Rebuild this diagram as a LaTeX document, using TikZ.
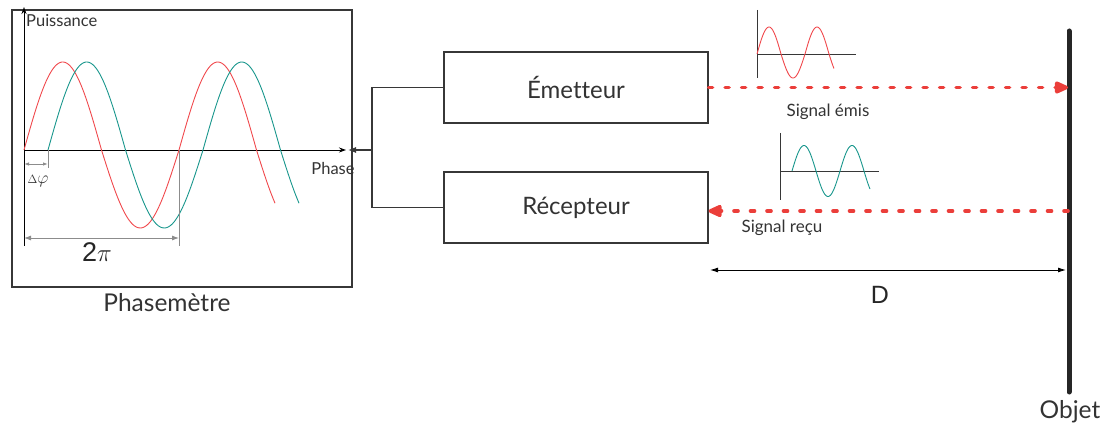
\documentclass[tikz,border=0pt]{standalone}
\usepackage{fontspec}
\setmainfont{Lato}[Ligatures=NoCommon]
\newfontfamily\dimfont{Liberation Sans}
\usetikzlibrary{arrows.meta, positioning, calc}
\definecolor{sigred}{RGB}{235, 62, 58}
\definecolor{wavered}{RGB}{240, 72, 76}
\definecolor{waveteal}{RGB}{24, 150, 140}
\definecolor{framegray}{RGB}{55, 55, 55}
\definecolor{dimgray}{RGB}{140, 140, 140}

\begin{document}
\begin{tikzpicture}[x=1pt, y=-1pt,
  blockbox/.style={draw=framegray, line width=1.1pt, minimum width=264pt, minimum height=71pt, inner sep=0pt, font=\fontsize{24}{28}\selectfont, text=black!80},
  smalltxt/.style={font=\fontsize{16.5}{19}\selectfont, text=black!80, inner sep=0pt},
  bigtxt/.style={font=\fontsize{24.5}{28}\selectfont, text=black!80, inner sep=0pt},
  signal/.style={sigred, line width=3.6pt, line cap=round, dash pattern=on 4pt off 12.5pt, -{Triangle[length=16pt, width=13pt, round=false]}},
  dimline/.style={dimgray, line width=0.9pt},
  wave/.style={line width=0.9pt}
]
  \useasboundingbox (0,0) rectangle (1108,427);

  % Phasemetre frame and axes
  \node[draw=framegray, line width=1.1pt, minimum width=340pt, minimum height=277pt, inner sep=0pt] (phaso) at (182,148.5) {};
  \node[bigtxt] (phasolbl) at (167,303) {Phasemètre};
  \draw[line width=0.9pt, -{Stealth[length=7pt, width=5pt]}] (24,246) -- (24,7);
  \draw[line width=0.9pt, -{Stealth[length=7pt, width=5pt]}] (24,150) -- (346,150);
  \node[smalltxt, anchor=west] (puiss) at (26,21) {Puissance};
  \node[smalltxt] (phase) at (333,168) {Phase};

  % both waves
  \draw[wave, wavered] plot[domain=0:583, samples=160, variable=\t] ({24+\t/360*155}, {150-(83*sin(\t)+5*abs(sin(\t)))});
  \draw[wave, waveteal] plot[domain=0:583, samples=160, variable=\t] ({48+\t/360*155}, {150-(83*sin(\t)+5*abs(sin(\t)))});

  % dimensions
  \draw[dimline] (48,150) -- (48,168);
  \draw[dimline] (179,150) -- (179,246);
  \draw[dimline, {Latex[length=5pt, width=3.5pt]}-{Latex[length=5pt, width=3.5pt]}] (24,164) -- (48,164);
  \draw[dimline, {Latex[length=7pt, width=5pt]}-{Latex[length=7pt, width=5pt]}] (24,238) -- (179,238);
  \node[font=\fontsize{17}{19}\selectfont, text=black!80, inner sep=0pt] (dphi) at (38,181) {$\scriptstyle\Delta\displaystyle\varphi$};
  \node[font=\fontsize{27}{30}\selectfont, text=black!85, inner sep=0pt] (deuxpi) at (97,252) {\dimfont 2$\pi$};

  % Emetteur / Recepteur
  \node[blockbox] (emet) at (576,87.5) {Émetteur};
  \node[blockbox] (recep) at (576,207.5) {Récepteur};
  \coordinate (join) at (372,150);
  \coordinate (phasin) at (348,150);
  \draw[framegray, line width=1.1pt] (emet.west) -| (join) |- (recep.west);
  \draw[framegray, line width=1.1pt, -{Latex[length=8pt, width=6pt]}] (join) -- (phasin);

  % Objet
  \coordinate (objtop) at (1069,31);
  \coordinate (objbot) at (1069,392);
  \draw[line width=5pt, line cap=round, black!85] (objtop) -- (objbot);
  \node[bigtxt] (objlbl) at (1070,412) {Objet};

  % signals
  \coordinate (objE) at (1068,87.5);
  \coordinate (objR) at (1068,211);
  \draw[signal] (emet.east) -- (objE);
  \draw[signal] (objR) -- (objR -| recep.east);
  \node[font=\fontsize{17}{20}\selectfont, text=black!80, inner sep=0pt] (emislbl) at (828,112) {Signal émis};
  \node[font=\fontsize{17}{20}\selectfont, text=black!80, inner sep=0pt] (reculbl) at (782,228) {Signal reçu};

  % small graph, signal emis
  \draw[line width=0.9pt, framegray] (757,10) -- (757,78);
  \draw[line width=0.9pt, framegray] (757,54) -- (856,54);
  \draw[wave, wavered] plot[domain=0:577, samples=100, variable=\t] ({757+\t/360*48}, {54-(25.5*sin(\t)+1.5*abs(sin(\t)))});

  % small graph, signal recu
  \draw[line width=0.9pt, framegray] (780,133) -- (780,200);
  \draw[line width=0.9pt, framegray] (780,171) -- (879,171);
  \draw[wave, waveteal] plot[domain=0:585, samples=100, variable=\t] ({792+\t/360*48}, {171-25.5*sin(\t)});

  % distance D
  \coordinate (dleft) at (710,270);
  \coordinate (dright) at (1066,270);
  \draw[line width=0.9pt, {Latex[length=8pt, width=5pt]}-{Latex[length=8pt, width=5pt]}] (dleft) -- (dright);
  \node[font=\fontsize{25}{29}\selectfont\dimfont, text=black!85, inner sep=0pt] (dlbl) at (880,295) {D};
\end{tikzpicture}
\end{document}
